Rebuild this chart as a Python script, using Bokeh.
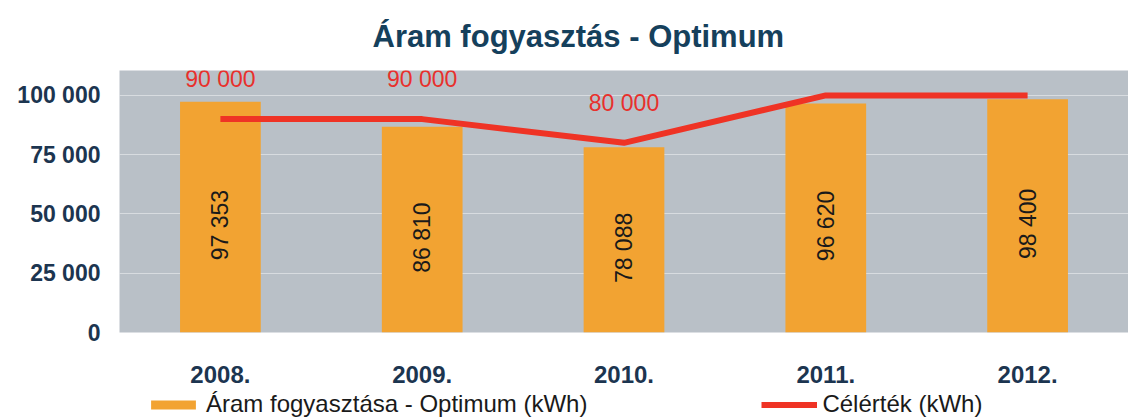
from bokeh.plotting import figure
from bokeh.layouts import column
from bokeh.models import (FactorRange, Range1d, FixedTicker, Legend, LegendItem,
                          ColumnDataSource)
from bokeh.core.properties import value
from bokeh.embed import file_html
from bokeh.resources import INLINE
import math

# ---- data ----
years = ["2008.", "2009.", "2010.", "2011.", "2012."]
consumption = [97353, 86810, 78088, 96620, 98400]
target = [90000, 90000, 80000, 100000, 100000]
y_ticks = [0, 25000, 50000, 75000, 100000]
y_tick_labels = ["0", "25 000", "50 000", "75 000", "100 000"]
title_text = "Áram fogyasztás - Optimum"
bar_label = "Áram fogyasztása - Optimum (kWh)"
line_label = "Célérték (kWh)"

def fmt(v):
    return f"{v:,}".replace(",", " ")

src = ColumnDataSource(dict(
    x=years,
    cons=consumption,
    half=[c / 2 for c in consumption],
    cons_txt=[fmt(c) for c in consumption],
    tgt=target,
    tgt_txt=[fmt(t) for t in target],
))

FONT = "Liberation Sans"
NAVY = "#1c3550"
ORANGE = "#f2a332"
RED = "#ef3325"

p = figure(x_range=FactorRange(*years), y_range=Range1d(0, 110500),
           width=1128, height=390, output_backend="svg", toolbar_location=None,
           min_border_left=119, min_border_right=0, min_border_top=70,
           min_border_bottom=58)
p.x_range.range_padding = 0.0

p.background_fill_color = "#b9c0c7"
p.border_fill_color = "white"
p.outline_line_color = None

p.title.text = title_text
p.title.text_font = FONT
p.title.text_font_size = "31px"
p.title.text_font_style = "bold"
p.title.text_color = "#15405c"
p.title.align = "left"
p.title.offset = 253
p.title.standoff = 33

bars = p.vbar(x="x", top="cons", width=0.40, source=src, fill_color=ORANGE,
              line_color=None)
line = p.line(x="x", y="tgt", source=src, line_color=RED, line_width=6)

p.text(x="x", y="half", text="cons_txt", source=src, angle=math.pi / 2,
       text_align="center", text_baseline="middle", text_font=value(FONT),
       text_font_size="23px", text_color="#1a1a1a", y_offset=8)
p.text(x="x", y="tgt", text="tgt_txt", source=src, text_align="center",
       text_baseline="middle", text_font=value(FONT), text_font_size="23px",
       text_color="#e8302c", y_offset=-40)

p.xgrid.grid_line_color = None
p.ygrid.grid_line_color = "white"
p.ygrid.grid_line_alpha = 0.45
p.ygrid.ticker = FixedTicker(ticks=y_ticks)

p.yaxis.ticker = FixedTicker(ticks=y_ticks)
p.yaxis.major_label_overrides = {t: l for t, l in zip(y_ticks, y_tick_labels)}
for ax in (p.xaxis[0], p.yaxis[0]):
    ax.axis_line_color = None
    ax.major_tick_line_color = None
    ax.minor_tick_line_color = None
    ax.major_tick_out = 0
    ax.major_tick_in = 0
    ax.major_label_text_font = FONT
    ax.major_label_text_font_style = "bold"
    ax.major_label_text_color = NAVY
p.yaxis.major_label_text_font_size = "23px"
p.yaxis.major_label_standoff = 19
p.xaxis.major_label_text_font_size = "24px"
p.xaxis.major_label_standoff = 33

# ---- legend strip below the chart (same series, renderers hidden) ----
lg = figure(width=1128, height=28, output_backend="svg", toolbar_location=None,
            x_range=FactorRange(*years), y_range=Range1d(-1e9, -1e9 + 1),
            min_border_left=0, min_border_right=0, min_border_top=0,
            min_border_bottom=0)
lg.axis.visible = False
lg.grid.visible = False
lg.outline_line_color = None
lg.background_fill_alpha = 0
lg_bar = lg.vbar(x="x", top="cons", width=0.4, source=src, fill_color=ORANGE,
                 line_color=None)
lg_line = lg.line(x="x", y="tgt", source=src, line_color=RED, line_width=6)
lg_bar.visible = False
lg_line.visible = False

legend = Legend(items=[LegendItem(label=bar_label, renderers=[lg_bar]),
                       LegendItem(label=line_label, renderers=[lg_line])],
                orientation="horizontal", location=(26, 0),
                label_text_font=FONT, label_text_font_size="24px",
                label_text_color="#1a1a1a", glyph_width=56, glyph_height=11,
                label_standoff=5, spacing=174, padding=0, margin=0,
                label_height=24, border_line_color=None,
                background_fill_alpha=0, inactive_fill_alpha=0)
lg.add_layout(legend, "center")

layout = column(p, lg, spacing=0)
open("out.html", "w").write(file_html(layout, INLINE))
